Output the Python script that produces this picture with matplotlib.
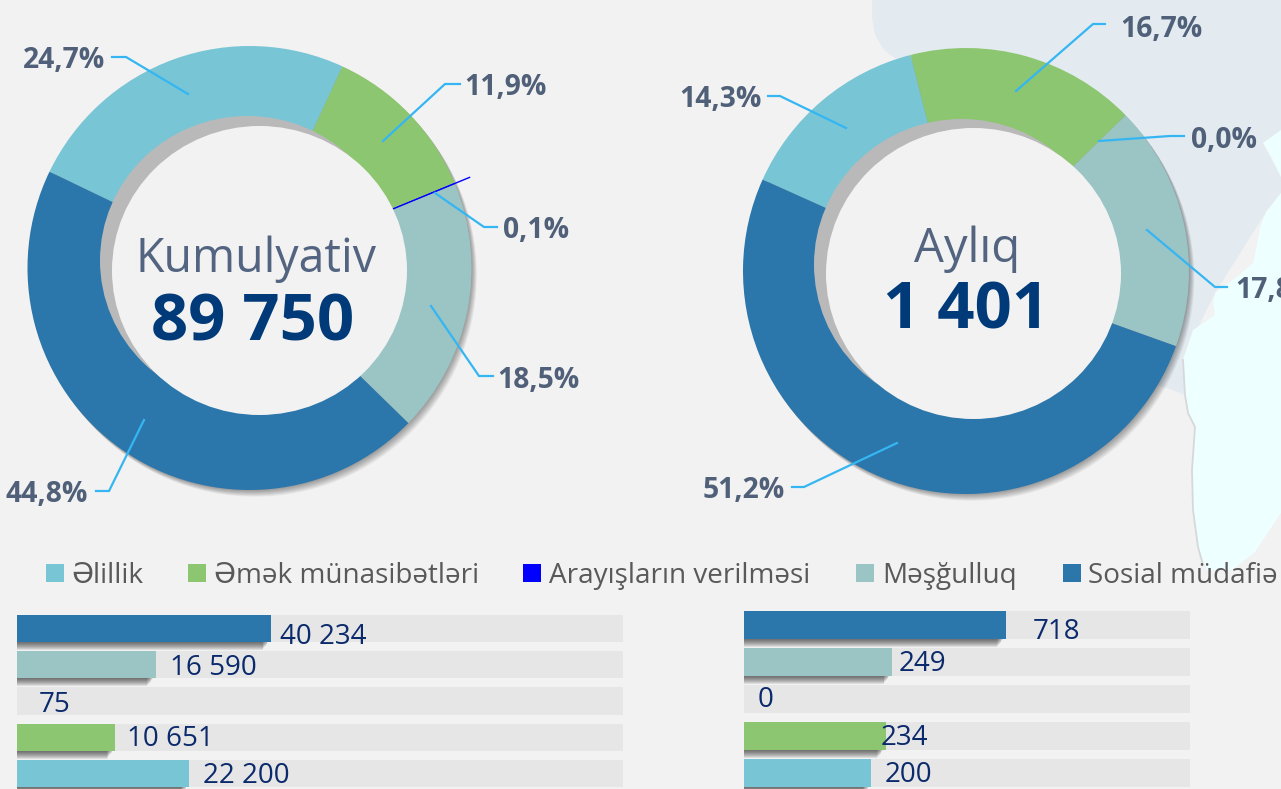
import matplotlib
matplotlib.use("Agg")
import matplotlib.pyplot as plt
import numpy as np
from matplotlib.patches import Circle, Ellipse, Polygon, Rectangle

W, H = 1281, 789
BG = "#F2F2F2"
FONT = ["Open Sans", "DejaVu Sans"]

# ---- data ----
categories = ["Əlillik", "Əmək münasibətləri", "Arayışların verilməsi", "Məşğulluq", "Sosial müdafiə"]
colors = ["#78C5D6", "#8DC670", "#0000FF", "#9BC4C5", "#2B76AB"]
cumulative = [22200, 10651, 75, 16590, 40234]
monthly = [200, 234, 0, 249, 718]
cum_pct = ["24,7%", "11,9%", "0,1%", "18,5%", "44,8%"]
mon_pct = ["14,3%", "16,7%", "0,0%", "17,8%", "51,2%"]
cum_total = "89 750"
mon_total = "1 401"
# bars are not to a common scale in the reference: lengths as % of the track
cum_bar_len = [28.4, 16.2, 0.0, 22.9, 41.9]
mon_bar_len = [28.5, 31.8, 0.0, 33.2, 58.7]
cum_bar_lab = ["22 200", "10 651", "75", "16 590", "40 234"]
mon_bar_lab = ["200", "234", "0", "249", "718"]

fig = plt.figure(figsize=(W / 100, H / 100), dpi=100, facecolor=BG)


def rect_px(x0, y0, x1, y1):
    return [x0 / W, 1 - y1 / H, (x1 - x0) / W, (y1 - y0) / H]


def layer(z):
    a = fig.add_axes([0, 0, 1, 1], zorder=z)
    a.set_xlim(0, W)
    a.set_ylim(H, 0)
    a.axis("off")
    return a


back = layer(0)
front = layer(5)

# ---- background map ----
land = [(872, 0), (1281, 0), (1281, 135), (1263, 143), (1281, 177), (1281, 193), (1263, 217),
        (1215, 293), (1183, 358), (1185, 395), (1167, 388), (1130, 380), (960, 250),
        (900, 62), (884, 50), (875, 35), (872, 18)]
sea = [(1281, 130), (1263, 143), (1272, 158), (1281, 177), (1281, 193), (1266, 212), (1260, 228),
       (1257, 245), (1253, 263), (1237, 277), (1215, 293), (1213, 303), (1215, 315), (1193, 330),
       (1183, 360), (1185, 395), (1188, 413), (1195, 427), (1192, 470), (1193, 510), (1198, 547),
       (1207, 570), (1232, 570), (1255, 552), (1281, 513)]
edge = [(1183, 360), (1185, 395), (1188, 413), (1195, 427), (1192, 470), (1193, 510), (1198, 547), (1203, 565)]
back.add_patch(Polygon(land, closed=True, fc="#E3EBF1", ec="none"))
back.add_patch(Polygon(sea, closed=True, fc="#EDFFFF", ec="none"))
back.plot(*zip(*edge), color="#D6D8D9", lw=1.3)


def donut(values, cx, cy, r, start, hole, light):
    for k in range(1, 10):
        back.add_patch(Circle((cx + k * 0.6, cy + k * 0.75), r, fc="#000000", ec="none", alpha=0.045))
    ax = fig.add_axes(rect_px(cx - r, cy - r, cx + r, cy + r), zorder=2)
    wedges, _ = ax.pie(values, colors=colors, startangle=start, counterclock=False, radius=1,
                       wedgeprops=dict(width=0.5, linewidth=0))
    ax.set_xlim(-1, 1)
    ax.set_ylim(-1, 1)
    front.add_patch(Ellipse(hole[:2], hole[2], hole[3], fc="#B9B9B9", ec="none"))
    front.add_patch(Ellipse(light[:2], light[2], light[3], fc=BG, ec="none"))
    return ax, wedges


axL, wL = donut(cumulative, 249.5, 268, 222, 154.3, (247.5, 260.5, 295, 289), (259.5, 270.5, 295, 289))
axR, wR = donut(monthly, 966, 271, 223, 155.8, (961.5, 264.5, 295, 291), (973.5, 273.5, 295, 291))

# thin 0,1% slice continues as a line past the ring
th = np.deg2rad((wL[2].theta1 + wL[2].theta2) / 2)
axL.plot([0.7 * np.cos(th), 1.072 * np.cos(th)], [0.7 * np.sin(th), 1.072 * np.sin(th)],
         color="#0000FF", lw=1.0, clip_on=False)

# ---- leader lines ----
LEAD = "#35B6F2"
leaders = [
    [(112, 57), (126, 57), (188, 94)],
    [(460, 84), (445, 84), (383, 141)],
    [(497, 227), (484, 227), (435, 193)],
    [(493, 376), (479, 376), (431, 306)],
    [(96, 491), (109, 491), (144, 420)],
    [(768, 96), (780, 96), (846, 128)],
    [(1105, 24), (1093, 24), (1016, 91)],
    [(1184, 136), (1170, 136), (1099, 141)],
    [(1227, 287), (1215, 287), (1147, 230)],
    [(792, 487), (804, 487), (897, 443)],
]
for pts in leaders:
    front.plot(*zip(*pts), color=LEAD, lw=1.6, solid_joinstyle="miter")

# ---- percent labels ----
PCT = "#4F6078"
pct_xy = [(23, 60), (464, 87), (503, 230), (497, 380), (6, 494)]
mon_xy = [(679, 99), (1120, 29), (1191, 140), (1235, 290), (703, 490)]
for lab, (x, y) in zip(cum_pct + mon_pct, pct_xy + mon_xy):
    front.text(x, y, lab, color=PCT, fontsize=20.3, fontweight="bold", family=FONT,
               ha="left", va="center")

# ---- centre text ----
front.text(256, 259, "Kumulyativ", color="#536480", fontsize=33.5, family=FONT,
           fontweight="normal", ha="center", va="center")
front.text(253, 324, cum_total, color="#003A78", fontsize=47, family=FONT,
           fontweight="bold", ha="center", va="center")
front.text(967, 249, "Aylıq", color="#536480", fontsize=34, family=FONT,
           fontweight="normal", ha="center", va="center")
front.text(966, 312, mon_total, color="#003A78", fontsize=47, family=FONT,
           fontweight="bold", ha="center", va="center")

# ---- legend ----
leg_sq = [46, 188, 523, 856, 1063]
leg_tx = [71, 214, 549, 882, 1088]
for name, col, sx, tx in zip(categories, colors, leg_sq, leg_tx):
    front.add_patch(Rectangle((sx, 564), 18, 18, fc=col, ec="none"))
    front.text(tx, 576, name, color="#595959", fontsize=20.1, family=FONT, ha="left", va="center")


# ---- bars ----
def bars(lengths, labels, x0, x1, centers, height, label_x, label_y):
    step = centers[1] - centers[0]
    ax = fig.add_axes(rect_px(x0, centers[0] - step / 2, x1, centers[-1] + step / 2), zorder=3)
    ax.set_xlim(0, 100)
    ax.set_ylim(len(lengths) - 0.5, -0.5)
    ax.axis("off")
    order = [4, 3, 2, 1, 0]  # top-to-bottom: Sosial ... Əlillik
    h = height / step
    px_x = 100 / (x1 - x0)
    ax.barh(range(5), [100] * 5, height=h, color="#E6E6E6", linewidth=0)
    for row, i in enumerate(order):
        L = lengths[i]
        if L > 0:
            for k in range(1, 9):
                ax.barh(row + k / step, L - (2 + 0.8 * k) * px_x, height=h, color="#000000",
                        alpha=0.085, linewidth=0, zorder=2)
            ax.barh(row, L, height=h, color=colors[i], linewidth=0, zorder=3)
        front.text(label_x[row], label_y[row], labels[i], color="#0B2A6B", fontsize=20,
                   family=FONT, ha="left", va="center")


bars(cum_bar_len, cum_bar_lab, 17, 623, [628.5, 664.5, 701, 737, 773.5], 27,
     [280, 170, 39, 127, 203], [637, 668, 705, 739, 776])
bars(mon_bar_len, mon_bar_lab, 744, 1190, [625, 662, 699, 736, 773], 28,
     [1033, 899, 758, 881, 885], [632, 664, 700, 738, 775])

fig.savefig("out.png", dpi=100, facecolor=BG)
